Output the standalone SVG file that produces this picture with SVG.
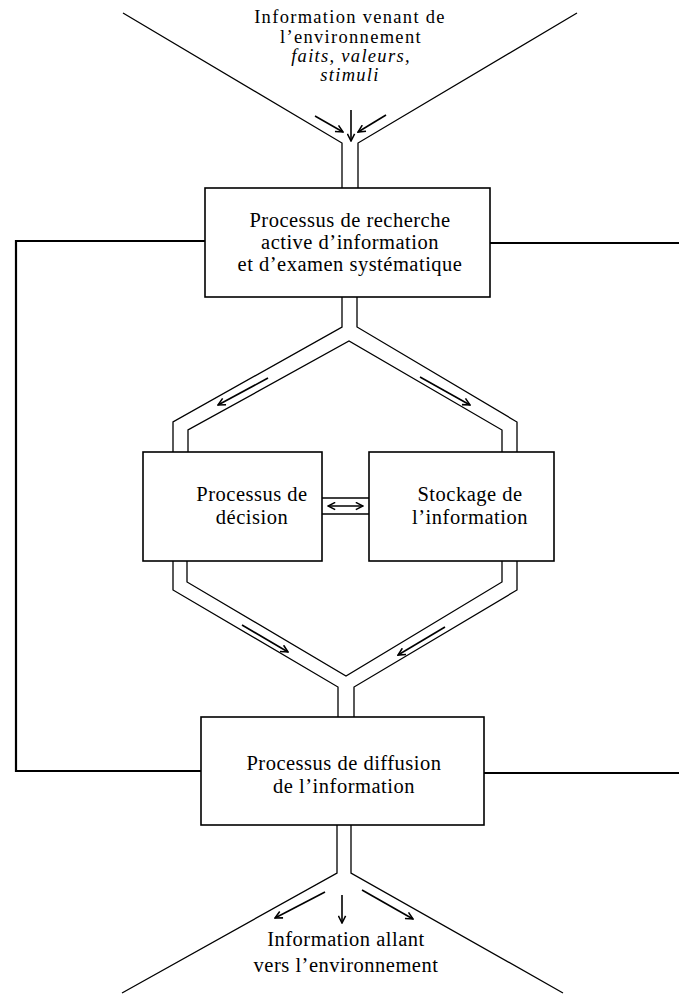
<svg xmlns="http://www.w3.org/2000/svg" width="679" height="994" viewBox="0 0 679 994">
<style>
.box{fill:#fff;stroke:#000;stroke-width:1.6}
.ln{fill:none;stroke:#000;stroke-width:1.3}
.fb{fill:none;stroke:#000;stroke-width:2.2}
.ar{fill:none;stroke:#000;stroke-width:1.6;marker-end:url(#ah)}
.t{font-family:"Liberation Serif","Times New Roman",serif;font-size:20.5px;letter-spacing:0.5px;text-anchor:middle;fill:#000}
.s{font-size:18.5px;letter-spacing:1.3px}
.i{font-style:italic}
</style>
<defs>
<marker id="ah" viewBox="0 0 10 10" refX="9" refY="5" markerWidth="9" markerHeight="9" markerUnits="userSpaceOnUse" orient="auto">
<path d="M1,1 L9,5 L1,9" fill="none" stroke="#000" stroke-width="1.7"/>
</marker>
<marker id="ahs" viewBox="0 0 10 10" refX="1" refY="5" markerWidth="9" markerHeight="9" markerUnits="userSpaceOnUse" orient="auto">
<path d="M9,1 L1,5 L9,9" fill="none" stroke="#000" stroke-width="1.7"/>
</marker>
</defs>
<rect width="679" height="994" fill="#fff"/>
<g id="connectors">
<path class="ln" d="M123,13 L342,143 L342,188"/>
<path class="ln" d="M577,13 L358,143 L358,188"/>
<line class="ar" x1="315" y1="116" x2="343" y2="132"/>
<line class="ar" x1="351" y1="110" x2="351" y2="141"/>
<line class="ar" x1="386" y1="115" x2="358" y2="132"/>
<path class="ln" d="M342,297 L342,327 L173,422 L173,452"/>
<path class="ln" d="M357,297 L357,327 L517,422 L517,452"/>
<path class="ln" d="M188,452 L188,430 L349,341 L502,430 L502,452"/>
<line class="ar" x1="268" y1="378" x2="218" y2="405"/>
<line class="ar" x1="420" y1="377" x2="470" y2="405"/>
<path class="ln" d="M173,561 L173,590 L338,687 L338,717"/>
<path class="ln" d="M517,561 L517,590 L354,687 L354,717"/>
<path class="ln" d="M187,561 L187,582 L346,676 L502,582 L502,561"/>
<line class="ar" x1="242" y1="625" x2="288" y2="652"/>
<line class="ar" x1="445" y1="627" x2="398" y2="655"/>
<line class="ln" x1="322" y1="498" x2="369" y2="498"/>
<line class="ln" x1="322" y1="514" x2="369" y2="514"/>
<line x1="328" y1="506" x2="363" y2="506" stroke="#000" stroke-width="1.6" marker-start="url(#ahs)" marker-end="url(#ah)"/>
<path class="ln" d="M337,825 L337,873 L122,993"/>
<path class="ln" d="M351,825 L351,873 L563,993"/>
<line class="ar" x1="325" y1="892" x2="275" y2="918"/>
<line class="ar" x1="342" y1="895" x2="342" y2="923"/>
<line class="ar" x1="362" y1="890" x2="413" y2="919"/>
<path class="fb" d="M205,241 L16,241 L16,771 L201,771"/>
<line class="fb" x1="490" y1="243" x2="679" y2="243"/>
<line class="fb" x1="484" y1="773" x2="679" y2="773"/>
</g>
<g id="label-in">
<text class="t s" x="350" y="23">Information venant de</text>
<text class="t s" x="351" y="43">l’environnement</text>
<text class="t s i" x="351" y="62">faits, valeurs,</text>
<text class="t s i" x="350" y="81">stimuli</text>
</g>
<g id="node-recherche">
<rect class="box" x="205" y="188" width="285" height="109"/>
<text class="t" x="350" y="227">Processus de recherche</text>
<text class="t" x="350" y="249">active d’information</text>
<text class="t" x="350" y="271">et d’examen systématique</text>
</g>
<g id="node-decision">
<rect class="box" x="143" y="452" width="179" height="109"/>
<text class="t" x="252" y="501">Processus de</text>
<text class="t" x="252" y="524">décision</text>
</g>
<g id="node-stockage">
<rect class="box" x="369" y="452" width="185" height="109"/>
<text class="t" x="470" y="501">Stockage de</text>
<text class="t" x="470" y="524">l’information</text>
</g>
<g id="node-diffusion">
<rect class="box" x="201" y="717" width="283" height="108"/>
<text class="t" x="344" y="770">Processus de diffusion</text>
<text class="t" x="344" y="793">de l’information</text>
</g>
<g id="label-out">
<text class="t" x="346" y="946">Information allant</text>
<text class="t" x="346" y="972">vers l’environnement</text>
</g>
</svg>
